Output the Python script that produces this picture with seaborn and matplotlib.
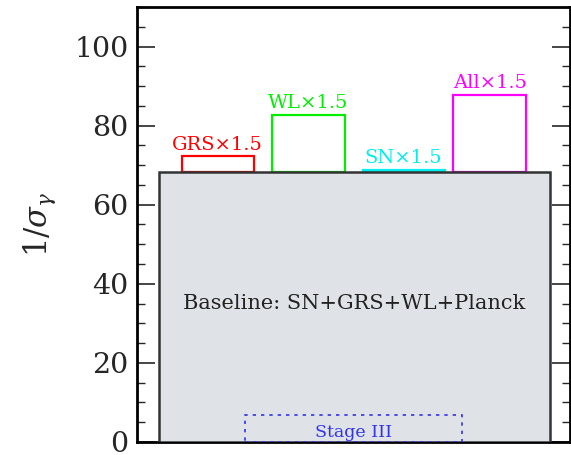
import numpy as np
import pandas as pd
import matplotlib
matplotlib.use("Agg")
import matplotlib.pyplot as plt
import seaborn as sns

# data
baseline_label = "Baseline: SN+GRS+WL+Planck"
baseline_value = 68.2
categories = ["GRS×1.5", "WL×1.5", "SN×1.5", "All×1.5"]
values = [72.2, 82.8, 68.9, 87.8]
stage3_label = "Stage III"
stage3_value = 6.9
yticks = [0, 20, 40, 60, 80, 100]

# layout (x positions in axis units 0..1)
bar_left = [0.103, 0.312, 0.521, 0.731]
bar_right = [0.270, 0.480, 0.711, 0.899]
base_left, base_right = 0.051, 0.954
s3_left, s3_right = 0.250, 0.751
colors = ["#ff0000", "#00ee00", "#00eeee", "#ff00ff"]

sns.set_style("ticks")
plt.rcParams["font.family"] = ["DejaVu Serif"]
plt.rcParams["mathtext.fontset"] = "dejavuserif"

fig = plt.figure(figsize=(5.71, 4.55), dpi=100)
ax = fig.add_axes([0.240, 0.0286, 0.758, 0.956])

# coloured bars
df = pd.DataFrame({"cat": categories, "val": values, "l": bar_left, "r": bar_right})
for _, row in df.iterrows():
    i = categories.index(row["cat"])
    ax.bar(row["l"], row["val"] - baseline_value, width=row["r"] - row["l"],
           bottom=baseline_value, align="edge", fill=False,
           edgecolor=colors[i], linewidth=1.6, zorder=2)
    ax.text((row["l"] + row["r"]) / 2, row["val"] + 0.6, row["cat"],
            color=colors[i], ha="center", va="bottom", fontsize=14)

# baseline box
ax.bar(base_left, baseline_value, width=base_right - base_left, align="edge",
       color="#dfe3e8", edgecolor="#333333", linewidth=1.8, zorder=3)
ax.text((base_left + base_right) / 2, 35.0, baseline_label, ha="center",
        va="center", fontsize=15, color="#222222", zorder=5)

# stage III
ax.bar(s3_left, stage3_value, width=s3_right - s3_left, align="edge",
       fill=False, edgecolor="#3333ee", linewidth=1.2, linestyle=(0, (2, 3)),
       zorder=4)
ax.text((s3_left + s3_right) / 2, 2.4, stage3_label, ha="center", va="center",
        fontsize=12.5, color="#3333ee", zorder=5)

ax.set_xlim(0, 1)
ax.set_ylim(0, 110)
ax.set_xticks([])
ax.set_yticks(yticks)
ax.set_yticklabels([str(t) for t in yticks], fontsize=20.5)
ax.set_yticks(np.arange(0, 111, 5), minor=True)
ax.tick_params(axis="y", which="both", direction="in", right=True, left=True)
ax.tick_params(axis="y", which="major", length=13, width=1.2, pad=6)
ax.tick_params(axis="y", which="minor", length=6, width=1.0)
for s in ax.spines.values():
    s.set_linewidth(2.0)
    s.set_color("black")
ax.set_ylabel(r"$1/\sigma_\gamma$", fontsize=22, labelpad=12)

fig.savefig("out.png", dpi=100)
